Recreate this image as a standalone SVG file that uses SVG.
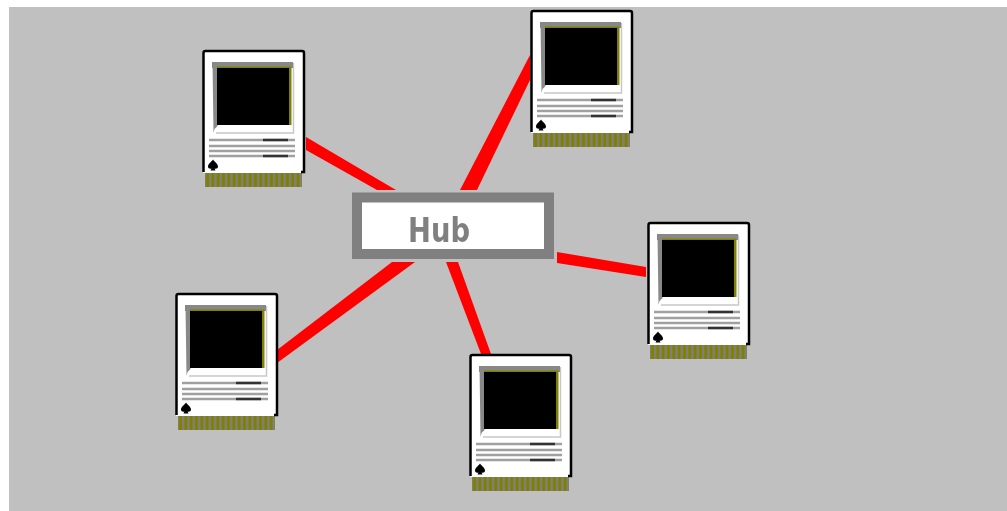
<svg xmlns="http://www.w3.org/2000/svg" width="1007" height="511" viewBox="0 0 1007 511">
  <style>
    .link{fill:#ff0000}
    .bez{fill:#888888}
    .lite{fill:none;stroke:#c8c8c8;stroke-width:1.500}
    .vent{stroke:#a0a0a0;stroke-width:2.500;fill:none}
    .dark{stroke:#303030;stroke-width:2.500;fill:none}
    .lab{font-family:"DejaVu Sans",sans-serif;font-weight:bold;font-size:34px;fill:#808080}
  </style>
  <defs>
    <filter id="soft" x="-20%" y="-20%" width="140%" height="140%"><feGaussianBlur stdDeviation="0.6"/></filter>
    <pattern id="teeth" x="205" width="5.330" height="14" patternUnits="userSpaceOnUse"><rect x="1.500" width="3" height="14" fill="#808000"/></pattern>
    <g id="mac" filter="url(#soft)">
      <rect x="3" y="123" width="97" height="14" fill="#808080"/>
      <rect x="3" y="123" width="97" height="14" fill="url(#teeth)"/>
      <rect x="1" y="1" width="101" height="122" fill="#fff"/>
      <path d="M1.500 122V3q0-2 2-2H100q2 0 2 2V122h-3" fill="none" stroke="#000" stroke-width="2.500"/>
      <path class="lite" d="M91.500 13V83H14"/>
      <rect class="bez" x="10" y="12" width="81" height="6"/>
      <path class="bez" d="M10.500 12h5V76l-3 3-1 4z"/>
      <rect fill="#808000" x="87" y="17" width="2.500" height="58"/>
      <rect fill="#808000" x="15" y="16.500" width="74" height="2"/>
      <rect fill="#000" x="15" y="18" width="72" height="57"/>
      <path class="vent" d="M7 90H93M7 96H93M7 101H93M7 106H93"/>
      <path class="dark" d="M61 90H86M61 106H86"/>
      <path fill="#000" d="M11 109.500c1 2 5 4 5 7 0 2-2 2.500-3.500 2l1 2h-5l1-2c-1.500 .5-3.500 0-3.500-2 0-3 4-5 5-7z"/>
    </g>
  </defs>
  <rect x="9" y="7" width="998" height="504" fill="#c0c0c0"/>
  <g id="connectors" filter="url(#soft)">
    <polygon class="link" points="306,137 396,190 377,190 306,150"/>
    <polygon class="link" points="530,55 530,80 477,190 460,190"/>
    <polygon class="link" points="557,252 646,267 646,277 557,263"/>
    <polygon class="link" points="446,262 458,262 491,354 481,354"/>
    <polygon class="link" points="392,262 415,262 277,363 277,350"/>
  </g>
  <g id="node-hub" filter="url(#soft)">
    <rect x="357" y="197.500" width="192" height="56.500" fill="#fff" stroke="#808080" stroke-width="10"/>
    <text class="lab" x="439" y="242" text-anchor="middle" textLength="62" lengthAdjust="spacingAndGlyphs">Hub</text>
  </g>
  <g id="node-mac-1"><use href="#mac" x="202" y="50"/></g>
  <g id="node-mac-2"><use href="#mac" x="530" y="10"/></g>
  <g id="node-mac-3"><use href="#mac" x="647" y="222"/></g>
  <g id="node-mac-4"><use href="#mac" x="469" y="354"/></g>
  <g id="node-mac-5"><use href="#mac" x="175" y="293"/></g>
</svg>
